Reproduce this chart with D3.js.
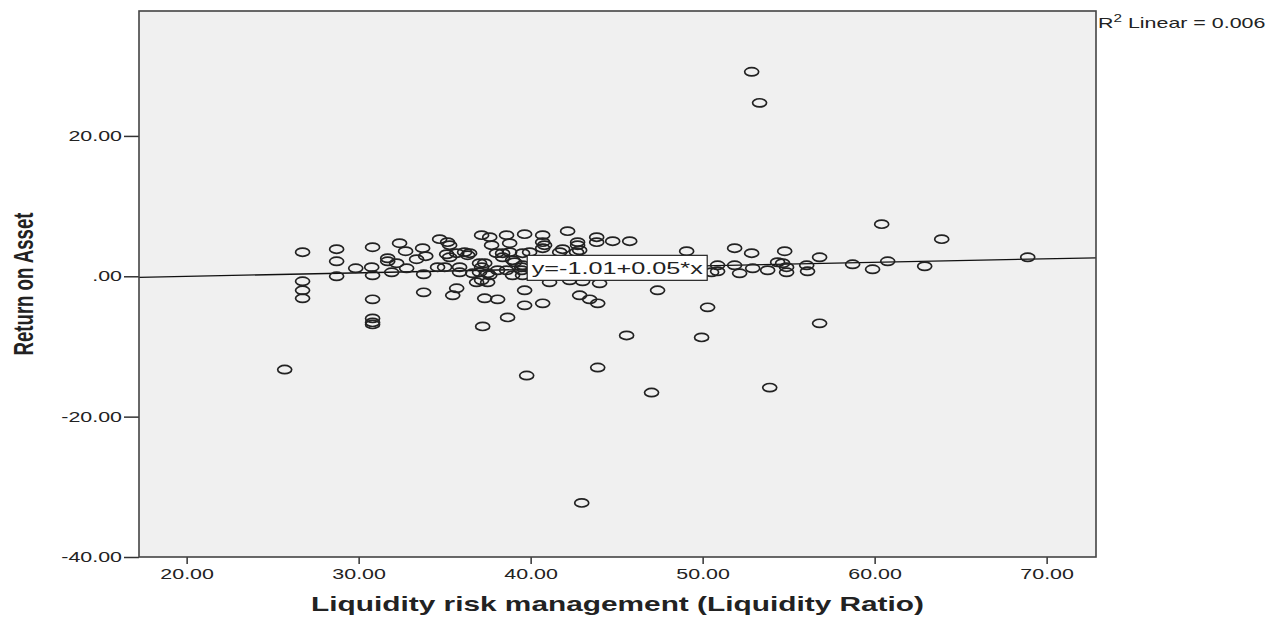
<!DOCTYPE html>
<html>
<head>
<meta charset="utf-8">
<script src="https://cdn.jsdelivr.net/npm/d3@7"></script>
<style>
  body { margin: 0; background: #fff; }
  text { font-family: "Liberation Sans", Arial, sans-serif; fill: #222; }
</style>
</head>
<body>
<div id="chart"></div>
<script>
// liquidity ratio (x) and return on asset (y)
var liquidityRatio = [
  25.70, 26.74, 26.74, 26.74, 26.74, 28.72, 28.72, 28.72, 29.83, 30.81,
  30.76, 30.81, 30.81, 30.81, 30.81, 30.81, 31.69, 31.69, 31.92, 32.38,
  32.73, 32.21, 32.79, 33.37, 33.72, 33.90, 33.78, 33.78, 34.71, 35.17,
  35.29, 35.12, 35.29, 34.59, 35.00, 35.70, 35.47, 35.70, 36.16, 36.45,
  35.87, 37.15, 37.62, 37.73, 38.60, 38.78, 39.65, 38.02, 38.37, 37.03,
  37.33, 37.15, 36.63, 37.50, 38.08, 37.15, 37.50, 38.60, 38.95, 39.07,
  39.53, 39.53, 37.33, 38.08, 39.65, 39.65, 40.70, 42.15, 43.84, 44.77,
  45.76, 40.70, 40.81, 40.70, 42.73, 42.73, 43.84, 38.78, 36.34, 39.94,
  41.69, 41.86, 42.67, 38.37, 38.95, 37.03, 35.87, 37.62, 36.86, 39.53,
  40.70, 42.85, 43.43, 43.90, 38.66, 37.21, 45.58, 42.85, 39.48, 39.48,
  41.10, 42.27, 43.02, 44.01, 49.07, 51.86, 52.85, 54.77, 56.80, 58.72,
  50.87, 50.87, 51.86, 52.15, 52.91, 53.78, 54.36, 54.65, 54.88, 54.88,
  56.05, 56.10, 50.52, 47.38, 50.29, 49.94, 56.80, 60.41, 59.88, 60.76,
  62.91, 63.90, 68.90, 52.85, 53.31, 42.97, 39.77, 43.90, 47.03, 53.90,
  44.50, 46.00, 47.50
];
var returnOnAsset = [
  -13.29, 3.43, -0.71, -2.00, -3.14, 3.86, 2.14, 0.00, 1.14, 4.14,
  1.29, 0.14, -3.29, -6.00, -6.57, -6.86, 2.57, 2.14, 0.57, 4.71,
  3.57, 1.86, 1.14, 2.43, 4.00, 2.86, 0.29, -2.29, 5.29, 4.86,
  4.43, 3.14, 2.71, 1.29, 1.29, -1.71, -2.71, 3.29, 3.43, 3.29,
  1.29, 5.86, 5.57, 4.43, 5.86, 4.71, 6.00, 3.29, 3.29, 1.86,
  1.86, 1.29, 0.43, 0.43, 0.86, -0.57, -0.86, 0.86, 0.14, 2.00,
  3.29, 1.57, -3.14, -3.29, -2.00, -4.14, 5.86, 6.43, 5.57, 5.00,
  5.00, 4.86, 4.43, 4.00, 4.86, 4.43, 4.86, 3.43, 3.00, 3.43,
  3.43, 3.86, 3.43, 2.71, 2.29, 0.57, 0.57, 0.14, -0.86, 0.14,
  -3.86, -2.71, -3.29, -3.86, -5.86, -7.14, -8.43, 3.71, 1.29, 0.86,
  -0.86, -0.57, -0.71, -1.00, 3.57, 4.00, 3.29, 3.57, 2.71, 1.71,
  1.57, 0.71, 1.57, 0.43, 1.14, 0.86, 2.00, 1.86, 1.29, 0.57,
  1.57, 0.71, 0.57, -2.00, -4.43, -8.71, -6.71, 7.43, 1.00, 2.14,
  1.43, 5.29, 2.71, 29.14, 24.71, -32.29, -14.14, -13.00, -16.57, -15.86,
  1.50, 1.00, 2.00
];
var xTicks = [20, 30, 40, 50, 60, 70];
var yTicks = [-40, -20, 0, 20];
var fitIntercept = -1.01;
var fitSlope = 0.05;
var fitLabel = "y=-1.01+0.05*x";
var r2Value = "0.006";

var width = 1285, height = 617;
var margin = {top: 11, right: 189, bottom: 60, left: 139};
var SX = 1.53; // the original picture is stretched sideways

var svg = d3.select("#chart").append("svg")
    .attr("width", width)
    .attr("height", height);

var x = d3.scaleLinear().domain([17.23, 72.87]).range([margin.left, width - margin.right]);
var y = d3.scaleLinear().domain([-40, 37.8]).range([height - margin.bottom, margin.top]);

function stretch(sel) {
    sel.each(function() {
        var t = d3.select(this);
        var tx = +t.attr("x") || 0, ty = +t.attr("y") || 0;
        t.attr("x", 0).attr("y", 0)
         .attr("transform", "translate(" + tx + "," + ty + ") scale(" + SX + ",1)");
    });
}

// plain hyphen for negatives, ".00" for zero like SPSS does
var locale = d3.formatLocale({decimal: ".", thousands: ",", grouping: [3], currency: ["", ""], minus: "-"});
function fmt(v) {
    return locale.format(".2f")(v).replace(/^0\./, ".");
}

// plot background
svg.append("rect")
    .attr("x", x.range()[0]).attr("y", y.range()[1])
    .attr("width", x.range()[1] - x.range()[0])
    .attr("height", y.range()[0] - y.range()[1])
    .attr("fill", "#f0f0f0");

// axes
var xAxis = svg.append("g")
    .attr("transform", "translate(0," + y.range()[0] + ")")
    .call(d3.axisBottom(x).tickValues(xTicks).tickSize(7).tickPadding(5).tickFormat(fmt));
var yAxis = svg.append("g")
    .attr("transform", "translate(" + x.range()[0] + ",0)")
    .call(d3.axisLeft(y).tickValues(yTicks).tickSize(15).tickPadding(2).tickFormat(fmt));

[xAxis, yAxis].forEach(function(a) {
    a.select(".domain").remove();
    a.selectAll("line").attr("stroke", "#333").attr("stroke-width", 1.5);
    a.selectAll("text").attr("font-size", 14).attr("font-family", "Liberation Sans, Arial, sans-serif").attr("fill", "#222");
    stretch(a.selectAll("text"));
});

// regression line
var xd = x.domain();
svg.append("line")
    .attr("x1", x(xd[0])).attr("y1", y(fitIntercept + fitSlope * xd[0]))
    .attr("x2", x(xd[1])).attr("y2", y(fitIntercept + fitSlope * xd[1]))
    .attr("stroke", "#111").attr("stroke-width", 1.3);

// points
var points = liquidityRatio.map(function(v, i) { return {lr: v, roa: returnOnAsset[i]}; });
svg.append("g").selectAll("ellipse").data(points).enter().append("ellipse")
    .attr("cx", function(d) { return x(d.lr); })
    .attr("cy", function(d) { return y(d.roa); })
    .attr("rx", 7).attr("ry", 4.1)
    .attr("fill", "none").attr("stroke", "#222").attr("stroke-width", 1.7);

// fit label box
var labelX = 39.8;
var bx = x(labelX), by = y(fitIntercept + fitSlope * 40) - 14;
svg.append("rect")
    .attr("x", bx).attr("y", by).attr("width", 180).attr("height", 25)
    .attr("fill", "#fff").attr("stroke", "#222").attr("stroke-width", 1.2);
svg.append("text")
    .attr("x", bx + 90).attr("y", by + 19)
    .attr("text-anchor", "middle").attr("font-size", 16.5)
    .text(fitLabel)
    .call(stretch);

// frame
svg.append("rect")
    .attr("x", x.range()[0]).attr("y", y.range()[1])
    .attr("width", x.range()[1] - x.range()[0])
    .attr("height", y.range()[0] - y.range()[1])
    .attr("fill", "none").attr("stroke", "#444").attr("stroke-width", 1.6);

// R squared note
var r2 = svg.append("text")
    .attr("x", x.range()[1] + 2).attr("y", 28)
    .attr("font-size", 14);
r2.append("tspan").text("R");
r2.append("tspan").attr("font-size", 10).attr("dy", -6).text("2");
r2.append("tspan").attr("dy", 6).text(" Linear = " + r2Value);
r2.call(stretch);

// axis titles
svg.append("text")
    .attr("x", (x.range()[0] + x.range()[1]) / 2).attr("y", 611)
    .attr("text-anchor", "middle").attr("font-size", 19.5).attr("font-weight", "bold")
    .text("Liquidity risk management (Liquidity Ratio)")
    .call(stretch);

svg.append("text")
    .attr("text-anchor", "middle").attr("font-size", 18.6).attr("font-weight", "bold")
    .attr("transform", "translate(33,284) rotate(-90) scale(1," + SX + ")")
    .text("Return on Asset");
</script>
</body>
</html>
